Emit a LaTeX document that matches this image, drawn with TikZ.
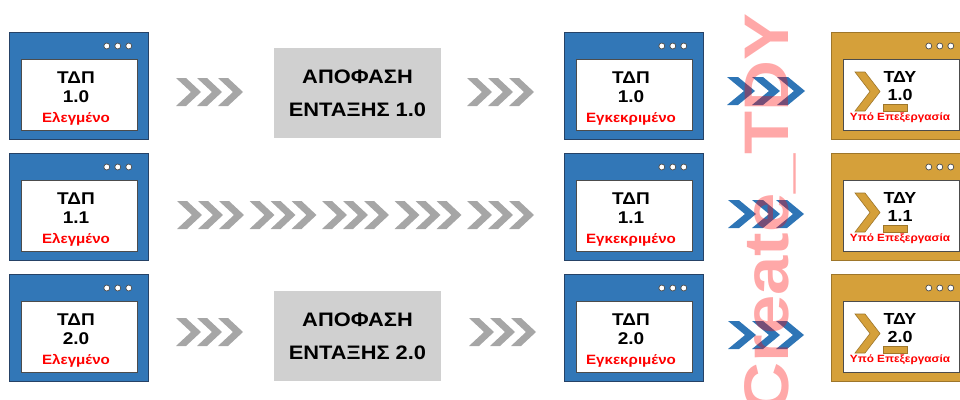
\documentclass[tikz,border=0pt]{standalone}
\usepackage{fontspec}
\setmainfont{Liberation Sans}[FakeStretch=1.12]
\usetikzlibrary{positioning}

\definecolor{winblue}{RGB}{50,119,183}
\definecolor{winedge}{RGB}{38,66,102}
\definecolor{wingold}{RGB}{213,160,58}
\definecolor{goldedge}{RGB}{158,118,42}
\definecolor{decgray}{RGB}{208,208,208}
\definecolor{chevgray}{RGB}{166,166,166}
\definecolor{chevblue}{RGB}{46,117,182}

\tikzset{
	winbox/.style={draw=winedge, fill=winblue, line width=0.8pt, minimum width=139pt, minimum height=107pt, inner sep=0pt, anchor=north west},
	goldbox/.style={winbox, draw=goldedge, fill=wingold},
	pane/.style={draw=black!70, fill=white, line width=0.6pt, minimum width=116pt, minimum height=71pt, inner sep=0pt, anchor=north west},
	title/.style={font=\bfseries\fontsize{17}{20}\selectfont, inner sep=0pt, anchor=base},
	status/.style={font=\bfseries\fontsize{13.5}{16}\selectfont, text=red, inner sep=0pt, anchor=base},
	wipstatus/.style={status, font=\bfseries\fontsize{10.5}{12}\selectfont},
	decision/.style={fill=decgray, minimum width=167pt, minimum height=90pt, inner sep=0pt, align=center, font=\bfseries\fontsize{19.5}{33}\selectfont},
	chev/.pic={\fill (0,-14) -- (10,-14) -- (25,0) -- (10,14) -- (0,14) -- (15,0) -- cycle;},
	bchev/.pic={\fill (0,-14) -- (11,-14) -- (28,0) -- (11,14) -- (0,14) -- (17,0) -- cycle;},
}

\begin{document}
\begin{tikzpicture}[x=1pt, y=-1pt]
	\useasboundingbox (0,0) rectangle (960,399);
	\clip (0,0) rectangle (960,399);

	% Windows, one row per version
	\foreach \row/\ytop/\ver in {1/32/1.0, 2/153/1.1, 3/274/2.0}{
		% checked draft
		\node[winbox] (chk\row) at (9,\ytop) {};
		\node[pane, xshift=12pt, yshift=-27pt] (chkpane\row) at (chk\row.north west) {};
		\node[title] (chkname\row) at (76,\ytop+51) {ΤΔΠ};
		\node[title] (chkver\row) at (76,\ytop+70) {\ver};
		\node[status] (chkstate\row) at (76,\ytop+90) {Ελεγμένο};

		% approved draft
		\node[winbox] (ok\row) at (564,\ytop) {};
		\node[pane, xshift=12pt, yshift=-27pt] (okpane\row) at (ok\row.north west) {};
		\node[title] (okname\row) at (631,\ytop+51) {ΤΔΠ};
		\node[title] (okver\row) at (631,\ytop+70) {\ver};
		\node[status] (okstate\row) at (631,\ytop+90) {Εγκεκριμένο};

		% work in progress
		\node[goldbox] (wip\row) at (831,\ytop) {};
		\node[pane, xshift=12pt, yshift=-27pt] (wippane\row) at (wip\row.north west) {};
		\filldraw[fill=wingold, draw=goldedge, line width=0.6pt] (855,\ytop+40) -- (865,\ytop+40) -- (880,\ytop+59.5) -- (865,\ytop+79) -- (855,\ytop+79) -- (870,\ytop+59.5) -- cycle; % prompt sign
		\filldraw[fill=wingold, draw=goldedge, line width=0.6pt] (883,\ytop+72) rectangle (907,\ytop+79);
		\node[title, font=\bfseries\fontsize{16}{19}\selectfont] (wipname\row) at (900,\ytop+50) {ΤΔΥ};
		\node[title, font=\bfseries\fontsize{16}{19}\selectfont] (wipver\row) at (900,\ytop+68) {\ver};
		\node[wipstatus] (wipstate\row) at (900,\ytop+88) {Υπό Επεξεργασία};

		% window dots
		\foreach \win in {chk,ok,wip}
			\foreach \dx in {20,31,42}
				\filldraw[fill=white, draw=black!70, line width=0.7pt] ([xshift=-\dx pt, yshift=-14pt]\win\row.north east) circle (3pt);
	}

	% Decisions
	\node[decision] (dec1) at (357.5,93) {ΑΠΟΦΑΣΗ\\ΕΝΤΑΞΗΣ 1.0};
	\node[decision] (dec3) at (357.5,336) {ΑΠΟΦΑΣΗ\\ΕΝΤΑΞΗΣ 2.0};

	% Grey chevrons
	\foreach \g/\y in {176/92, 467/92, 176/332, 469/332, 177/215, 249.5/215, 322/215, 394.5/215, 467/215}
		\foreach \k in {0,1,2}
			\pic[chevgray] at (\g+21*\k,\y) {chev};

	% Blue chevrons
	\foreach \g/\y/\s in {727/91/25, 728/214/24, 728/335/24}
		\foreach \k in {0,1,2}
			\pic[chevblue] at (\g+\s*\k,\y) {bchev};

	% Watermark
	\node[rotate=90, anchor=base east, inner sep=0pt, text=red, text opacity=0.34, font=\bfseries\fontsize{63}{63}\selectfont] (mark) at (788,13) {Create\_TDY};
\end{tikzpicture}
\end{document}
